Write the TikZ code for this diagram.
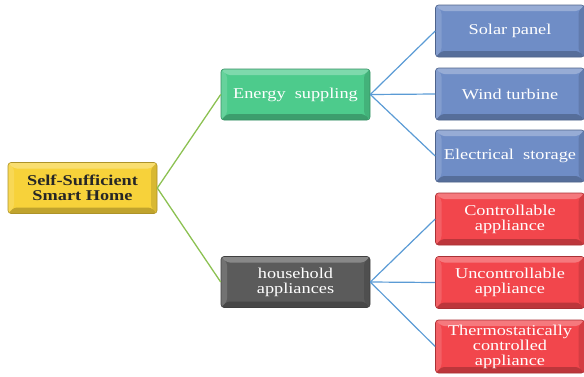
\documentclass[tikz,border=0pt]{standalone}
\usepackage{fontspec}
\setmainfont{Liberation Serif}[FakeStretch=1.22]
\usetikzlibrary{calc}
\definecolor{rootc}{HTML}{F7D23A}
\definecolor{greenc}{HTML}{4DCB8C}
\definecolor{bluec}{HTML}{6F8DC6}
\definecolor{redc}{HTML}{F2464C}
\definecolor{grayc}{HTML}{5B5B5B}
\definecolor{glink}{HTML}{8CC152}
\definecolor{blink}{HTML}{5B9BD5}
\tikzset{
  bevel/.style={
    path picture={
      \coordinate (nw) at (path picture bounding box.north west);
      \coordinate (ne) at (path picture bounding box.north east);
      \coordinate (sw) at (path picture bounding box.south west);
      \coordinate (se) at (path picture bounding box.south east);
      \fill[white,opacity=0.28] (nw) -- (ne) -- ($(ne)+(-6pt,-6pt)$) -- ($(nw)+(6pt,-6pt)$) -- cycle;
      \fill[white,opacity=0.14] (nw) -- (sw) -- ($(sw)+(6pt,6pt)$) -- ($(nw)+(6pt,-6pt)$) -- cycle;
      \fill[black,opacity=0.22] (sw) -- (se) -- ($(se)+(-6pt,6pt)$) -- ($(sw)+(6pt,6pt)$) -- cycle;
      \fill[black,opacity=0.12] (ne) -- (se) -- ($(se)+(-6pt,6pt)$) -- ($(ne)+(-6pt,-6pt)$) -- cycle;
    }},
  box/.style={bevel, rounded corners=3pt, minimum width=149pt, minimum height=51pt,
    inner sep=1pt, align=center, font=\rmfamily\fontsize{15}{15}\selectfont, text=white,
    draw=#1!70!black, line width=0.6pt, fill=#1},
  rootbox/.style={box=rootc, text=black!85, font=\rmfamily\fontsize{15}{15.5}\selectfont\bfseries},
  glinkst/.style={draw=glink, line width=1.3pt},
  blinkst/.style={draw=blink, line width=1.2pt},
}
\begin{document}
\begin{tikzpicture}[x=1pt,y=-1pt]
\useasboundingbox (0,0) rectangle (584,376);
\node[rootbox] (root) at (82.5,188) {Self-Sufficient\\Smart Home};
\node[box=greenc] (energy) at (295.5,94.5) {Energy\ \ suppling};
\node[box=grayc] (house) at (295.5,282) {household\\appliances};
\node[box=bluec, minimum height=52pt] (solar) at (510,31) {Solar panel};
\node[box=bluec, minimum height=52pt] (wind) at (510,94) {Wind turbine};
\node[box=bluec, minimum height=52pt] (elec) at (510,156) {Electrical\ \ storage};
\node[box=redc, minimum height=52pt] (ctrl) at (510,219) {Controllable\\appliance};
\node[box=redc, minimum height=52pt] (unctrl) at (510,282.5) {Uncontrollable\\appliance};
\node[box=redc, minimum height=53pt] (thermo) at (510,346.5) {Thermostatically\\controlled\\appliance};
\draw[glinkst] (root.east) -- (energy.west);
\draw[glinkst] (root.east) -- (house.west);
\draw[blinkst] (energy.east) -- (solar.west);
\draw[blinkst] (energy.east) -- (wind.west);
\draw[blinkst] (energy.east) -- (elec.west);
\draw[blinkst] (house.east) -- (ctrl.west);
\draw[blinkst] (house.east) -- (unctrl.west);
\draw[blinkst] (house.east) -- (thermo.west);
\end{tikzpicture}
\end{document}
